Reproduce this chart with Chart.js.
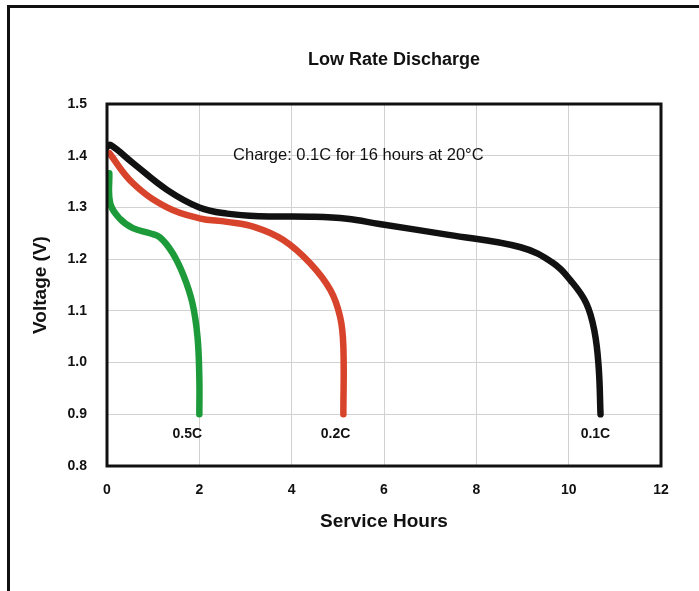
<!DOCTYPE html>
<html>
<head>
<meta charset="utf-8">
<script src="https://cdn.jsdelivr.net/npm/chart.js@4.4.0/dist/chart.umd.min.js"></script>
<style>
  html, body { margin: 0; padding: 0; background: #fff; }
  #wrap { position: relative; width: 699px; height: 591px; overflow: hidden; }
  #frame { position: absolute; left: 7px; top: 5px; width: 720px; height: 620px;
           border-left: 3px solid #111; border-top: 3px solid #111; }
  canvas { position: absolute; left: 0; top: 0; }
</style>
</head>
<body>
<div id="wrap">
  <div id="frame"></div>
  <canvas id="chart" width="699" height="591"></canvas>
</div>
<script>
// Service hours (x) and voltage (y)
const hours01C = [0, 0.07, 0.56, 1.3, 2.0, 2.6, 3.3, 4.4, 5.2, 5.9, 7.4, 8.96, 9.67, 10.04, 10.38, 10.56, 10.65, 10.69];
const volts01C = [1.417, 1.421, 1.386, 1.334, 1.300, 1.288, 1.283, 1.282, 1.278, 1.268, 1.247, 1.223, 1.192, 1.159, 1.115, 1.060, 0.991, 0.90];

const hours02C = [0.05, 0.56, 1.3, 2.0, 2.6, 3.2, 3.82, 4.4, 4.84, 5.05, 5.12, 5.12];
const volts02C = [1.405, 1.347, 1.300, 1.279, 1.272, 1.262, 1.237, 1.192, 1.140, 1.088, 1.030, 0.90];

const hours05C = [0.05, 0.07, 0.28, 0.56, 0.93, 1.15, 1.42, 1.66, 1.85, 1.96, 2.0, 2.0];
const volts05C = [1.366, 1.308, 1.278, 1.260, 1.250, 1.242, 1.212, 1.168, 1.115, 1.050, 0.97, 0.90];

const seriesNames = ['0.1C', '0.2C', '0.5C'];
const seriesColors = ['#111111', '#d8432b', '#1d9a3a'];
// where each rate label sits (hours, volts)
const labelHours = [10.58, 4.95, 1.74];
const labelVolts = [0.862, 0.862, 0.862];

const xTicks = [0, 2, 4, 6, 8, 10, 12];
const yTicks = [0.8, 0.9, 1.0, 1.1, 1.2, 1.3, 1.4, 1.5];

const chartTitle = 'Low Rate Discharge';
const chargeNote = 'Charge: 0.1C for 16 hours at 20°C';
const noteHours = 2.73;
const noteVolts = 1.4;

const FONT = "'Liberation Sans', Arial, sans-serif";

function toPoints(xs, ys) {
    return xs.map((x, i) => ({ x: x, y: ys[i] }));
}

// frame around the plot, title and text annotations
const annotate = {
    id: 'annotate',
    afterDatasetsDraw(chart) {
        const { ctx, chartArea: a, scales: { x, y } } = chart;
        ctx.save();
        ctx.strokeStyle = '#111';
        ctx.lineWidth = 3;
        ctx.strokeRect(a.left, a.top, a.right - a.left, a.bottom - a.top);

        ctx.fillStyle = '#111';
        ctx.textAlign = 'center';
        ctx.textBaseline = 'middle';
        ctx.font = 'bold 18px ' + FONT;
        ctx.fillText(chartTitle, 394, 60);

        ctx.font = 'bold 14px ' + FONT;
        seriesNames.forEach((name, i) => {
            ctx.fillText(name, x.getPixelForValue(labelHours[i]), y.getPixelForValue(labelVolts[i]));
        });

        ctx.font = '16.5px ' + FONT;
        ctx.textAlign = 'left';
        ctx.fillText(chargeNote, x.getPixelForValue(noteHours), y.getPixelForValue(noteVolts));
        ctx.restore();
    }
};

new Chart(document.getElementById('chart'), {
    type: 'line',
    data: {
        datasets: [
            { label: seriesNames[0], data: toPoints(hours01C, volts01C), borderColor: seriesColors[0] },
            { label: seriesNames[1], data: toPoints(hours02C, volts02C), borderColor: seriesColors[1] },
            { label: seriesNames[2], data: toPoints(hours05C, volts05C), borderColor: seriesColors[2] }
        ].map(ds => ({ ...ds, borderWidth: 6.5, pointRadius: 0, tension: 0.4, borderCapStyle: 'round', borderJoinStyle: 'round', fill: false }))
    },
    options: {
        responsive: false,
        animation: false,
        layout: { padding: { left: 0, right: 38, top: 104, bottom: 0 } },
        plugins: {
            legend: { display: false },
            tooltip: { enabled: false },
            title: { display: false }
        },
        scales: {
            x: {
                type: 'linear',
                min: 0, max: 12,
                afterBuildTicks: s => { s.ticks = xTicks.map(v => ({ value: v })); },
                afterFit: s => { s.height = 125; },
                grid: { color: '#d2d2d2', lineWidth: 1, drawTicks: false },
                border: { display: false },
                ticks: { color: '#111', padding: 16, font: { family: FONT, size: 14, weight: 'bold' } },
                title: {
                    display: true, text: 'Service Hours', color: '#111',
                    font: { family: FONT, size: 19, weight: 'bold' },
                    padding: { top: 0, bottom: 58 }
                }
            },
            y: {
                min: 0.8, max: 1.5,
                afterBuildTicks: s => { s.ticks = yTicks.map(v => ({ value: v })); },
                afterFit: s => { s.width = 107; },
                grid: { color: '#d2d2d2', lineWidth: 1, drawTicks: false },
                border: { display: false },
                ticks: { color: '#111', padding: 20, font: { family: FONT, size: 14, weight: 'bold' },
                         callback: v => v.toFixed(1) },
                title: {
                    display: true, text: 'Voltage (V)', color: '#111',
                    font: { family: FONT, size: 19, weight: 'bold' },
                    padding: { top: 29, bottom: 0 }
                }
            }
        }
    },
    plugins: [annotate]
});
</script>
</body>
</html>
